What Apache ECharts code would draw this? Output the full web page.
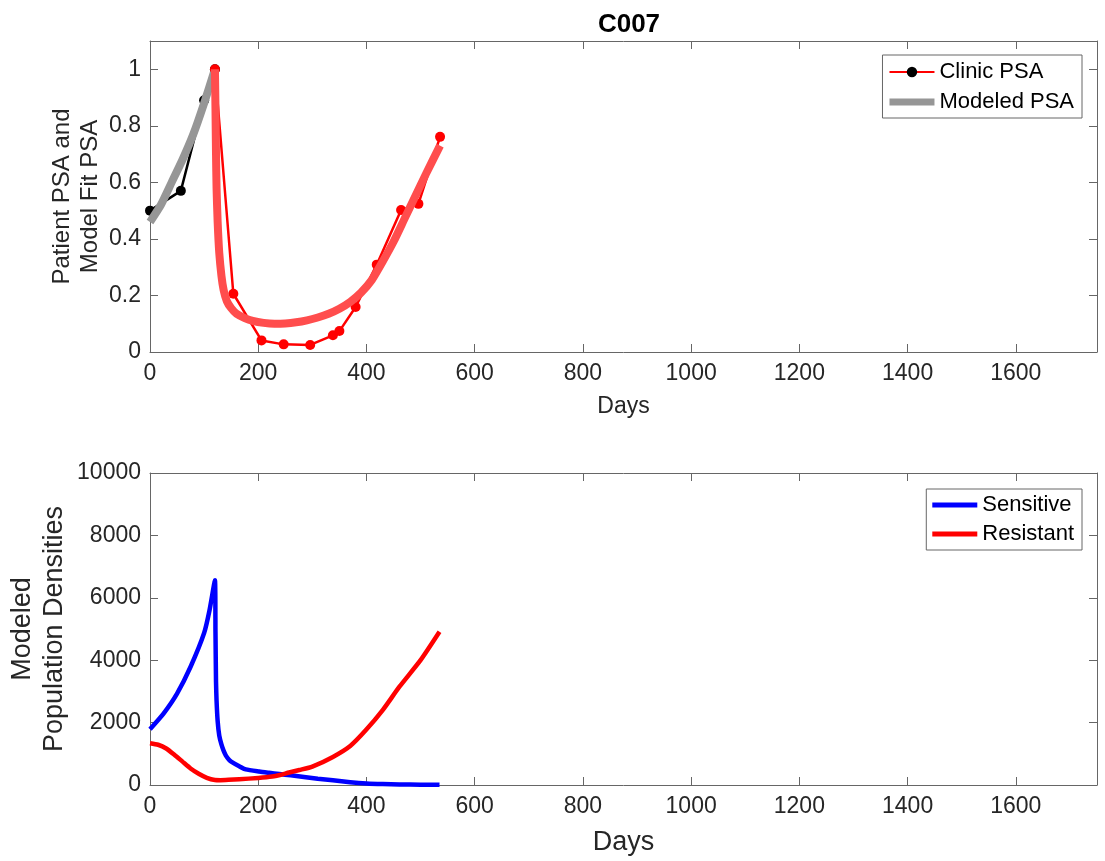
<!DOCTYPE html>
<html>
<head>
<meta charset="utf-8">
<title>C007</title>
<script src="https://cdn.jsdelivr.net/npm/echarts@6/dist/echarts.min.js"></script>
<style>
  html, body { margin: 0; padding: 0; background: #ffffff; }
  #chart { width: 1105px; height: 861px; }
</style>
</head>
<body>
<div id="chart"></div>
<script>
// Patient C007: clinic PSA, modeled PSA fit, and modeled cell populations over time

// Clinic PSA, first cycle (black)
const clinicDays1 = [0, 57, 100, 120];
const clinicPsa1 = [0.50, 0.57, 0.89, 1.00];

// Clinic PSA, second cycle (red)
const clinicDays2 = [120, 154, 206, 247, 296, 338, 350, 380, 419, 464, 496, 536];
const clinicPsa2 = [1.00, 0.206, 0.041, 0.027, 0.025, 0.059, 0.074, 0.159, 0.309, 0.502, 0.524, 0.761];

// Modeled PSA, first cycle (gray)
const modelDays1 = [0, 20, 40, 60, 80, 100, 120];
const modelPsa1 = [0.46, 0.52, 0.60, 0.68, 0.77, 0.88, 1.00];

// Modeled PSA, second cycle (light red)
const modelDays2 = [120, 121, 122, 123, 125, 128, 132, 136, 142, 150, 160, 175, 190, 210, 230, 250, 270, 290, 310, 330, 350, 370, 390, 410, 430, 450, 470, 490, 510, 536];
const modelPsa2 = [1.00, 0.86, 0.70, 0.58, 0.46, 0.35, 0.27, 0.22, 0.18, 0.155, 0.135, 0.12, 0.11, 0.103, 0.100, 0.101, 0.105, 0.112, 0.122, 0.135, 0.153, 0.177, 0.21, 0.255, 0.32, 0.39, 0.47, 0.55, 0.63, 0.73];

// Modeled sensitive population
const sensDays = [0, 25, 50, 75, 100, 110, 120, 121, 122, 123, 125, 128, 132, 136, 140, 146, 150, 165, 177, 202, 220, 239, 260, 288, 310, 338, 370, 400, 430, 461, 500, 535];
const sensVals = [1790, 2290, 2930, 3790, 4870, 5600, 6560, 4900, 3300, 2700, 2050, 1580, 1300, 1100, 950, 810, 750, 600, 500, 430, 390, 350, 310, 250, 200, 150, 90, 50, 30, 20, 12, 10];

// Modeled resistant population
const resDays = [0, 15, 30, 45, 60, 75, 90, 105, 120, 130, 145, 165, 200, 226, 240, 257, 276, 300, 338, 370, 399, 430, 461, 500, 535];
const resVals = [1340, 1290, 1170, 970, 750, 530, 360, 230, 160, 155, 165, 185, 225, 270, 320, 400, 480, 590, 900, 1250, 1760, 2400, 3150, 4000, 4910];

const FONT = 'Liberation Sans, Arial, Helvetica, sans-serif';
const AXIS_COLOR = '#666666';
const TEXT_COLOR = '#262626';

const pairs = (xs, ys) => xs.map((x, i) => [x, ys[i]]);
const plainNumber = v => String(Math.round(v * 1000) / 1000);

function xAxes(gridIndex, nameSize, nameGap) {
  const base = {
    gridIndex: gridIndex, type: 'value', min: 0, max: 1750, interval: 200,
    splitLine: { show: false },
    axisLine: { show: true, onZero: false, lineStyle: { color: AXIS_COLOR, width: 1 } },
    axisTick: { show: true, inside: true, length: 8, lineStyle: { color: AXIS_COLOR, width: 1 } }
  };
  return [
    Object.assign({}, base, {
      position: 'bottom',
      axisLabel: { show: true, margin: 10, fontSize: 23, color: TEXT_COLOR, fontFamily: FONT, showMaxLabel: false, formatter: plainNumber },
      name: 'Days', nameLocation: 'middle', nameGap: nameGap, nameMoveOverlap: false,
      nameTextStyle: { fontSize: nameSize, color: TEXT_COLOR, fontFamily: FONT }
    }),
    Object.assign({}, base, { position: 'top', axisLabel: { show: false } })
  ];
}

function yAxes(gridIndex, min, max, interval, name, nameSize, nameGap, lineHeight) {
  const base = {
    gridIndex: gridIndex, type: 'value', min: min, max: max, interval: interval,
    splitLine: { show: false },
    axisLine: { show: true, onZero: false, lineStyle: { color: AXIS_COLOR, width: 1 } },
    axisTick: { show: true, inside: true, length: 8, lineStyle: { color: AXIS_COLOR, width: 1 } }
  };
  return [
    Object.assign({}, base, {
      position: 'left',
      axisLabel: { show: true, margin: 9, fontSize: 23, color: TEXT_COLOR, fontFamily: FONT, showMaxLabel: max % interval === 0, formatter: plainNumber },
      name: name, nameLocation: 'middle', nameGap: nameGap, nameRotate: 90, nameMoveOverlap: false,
      nameTextStyle: { fontSize: nameSize, color: TEXT_COLOR, fontFamily: FONT, lineHeight: lineHeight, align: 'center' }
    }),
    Object.assign({}, base, { position: 'right', axisLabel: { show: false } })
  ];
}

// legend icons for the thick model lines: plain bars
const bar7 = 'path://M0,0 H45 V7 H0 Z';
const bar5 = 'path://M0,0 H45 V5 H0 Z';

const legendBase = {
  orient: 'vertical',
  right: 23,
  itemWidth: 45,
  itemHeight: 13,
  borderColor: AXIS_COLOR,
  borderWidth: 1,
  backgroundColor: '#ffffff',
  selectedMode: false,
  textStyle: { fontSize: 22, color: '#000000', fontFamily: FONT }
};

const option = {
  animation: false,
  backgroundColor: '#ffffff',
  title: {
    text: 'C007', left: 624, top: 7, textAlign: 'center',
    textStyle: { fontSize: 26, fontWeight: 'bold', color: '#000000', fontFamily: FONT }
  },
  grid: [
    { left: 150, right: 8, top: 41, height: 311, containLabel: false, outerBoundsMode: 'none' },
    { left: 150, right: 8, top: 473, height: 312, containLabel: false, outerBoundsMode: 'none' }
  ],
  xAxis: [].concat(xAxes(0, 23, 43), xAxes(1, 27, 44)),
  yAxis: [].concat(
    yAxes(0, 0, 1.1, 0.2, 'Patient PSA and\nModel Fit PSA', 24, 46, 28),
    yAxes(1, 0, 10000, 2000, 'Modeled\nPopulation Densities', 27, 79, 32)
  ),
  legend: [
    Object.assign({}, legendBase, {
      top: 55,
      itemGap: 8,
      padding: [6, 8, 5, 6],
      data: [
        { name: 'Clinic PSA', itemStyle: { color: '#000000', borderColor: '#000000' } },
        { name: 'Modeled PSA', icon: bar7 }
      ]
    }),
    Object.assign({}, legendBase, {
      top: 489,
      itemGap: 7,
      padding: [5, 8, 5, 6],
      data: [{ name: 'Sensitive', icon: bar5 }, { name: 'Resistant', icon: bar5 }]
    })
  ],
  series: [
    {
      name: 'Clinic PSA, cycle 1', type: 'line', xAxisIndex: 0, yAxisIndex: 0,
      data: pairs(clinicDays1, clinicPsa1),
      symbol: 'circle', symbolSize: 10, showSymbol: true,
      itemStyle: { color: '#000000' },
      lineStyle: { color: '#000000', width: 2.5 },
      z: 2
    },
    {
      name: 'Modeled PSA', type: 'line', xAxisIndex: 0, yAxisIndex: 0,
      data: pairs(modelDays1, modelPsa1),
      symbol: 'none', smooth: 0.2,
      itemStyle: { color: '#969696' },
      lineStyle: { color: '#969696', width: 8, join: 'round' },
      z: 3
    },
    {
      name: 'Clinic PSA', type: 'line', xAxisIndex: 0, yAxisIndex: 0,
      data: pairs(clinicDays2, clinicPsa2),
      symbol: 'circle', symbolSize: 10, showSymbol: true,
      itemStyle: { color: '#ff0000' },
      lineStyle: { color: '#ff0000', width: 2.5 },
      z: 4
    },
    {
      name: 'Modeled PSA, cycle 2', type: 'line', xAxisIndex: 0, yAxisIndex: 0,
      data: pairs(modelDays2, modelPsa2),
      symbol: 'none', smooth: 0.2,
      itemStyle: { color: '#ff4d4d' },
      lineStyle: { color: '#ff4d4d', width: 8, join: 'round' },
      z: 5
    },
    {
      name: 'Sensitive', type: 'line', xAxisIndex: 2, yAxisIndex: 2,
      data: pairs(sensDays, sensVals),
      symbol: 'none', smooth: 0.2,
      itemStyle: { color: '#0000ff' },
      lineStyle: { color: '#0000ff', width: 4.5, join: 'round' }
    },
    {
      name: 'Resistant', type: 'line', xAxisIndex: 2, yAxisIndex: 2,
      data: pairs(resDays, resVals),
      symbol: 'none', smooth: 0.2,
      itemStyle: { color: '#ff0000' },
      lineStyle: { color: '#ff0000', width: 4.5, join: 'round' }
    }
  ]
};

const chart = echarts.init(document.getElementById('chart'), null, { renderer: 'canvas' });
chart.setOption(option);
</script>
</body>
</html>
